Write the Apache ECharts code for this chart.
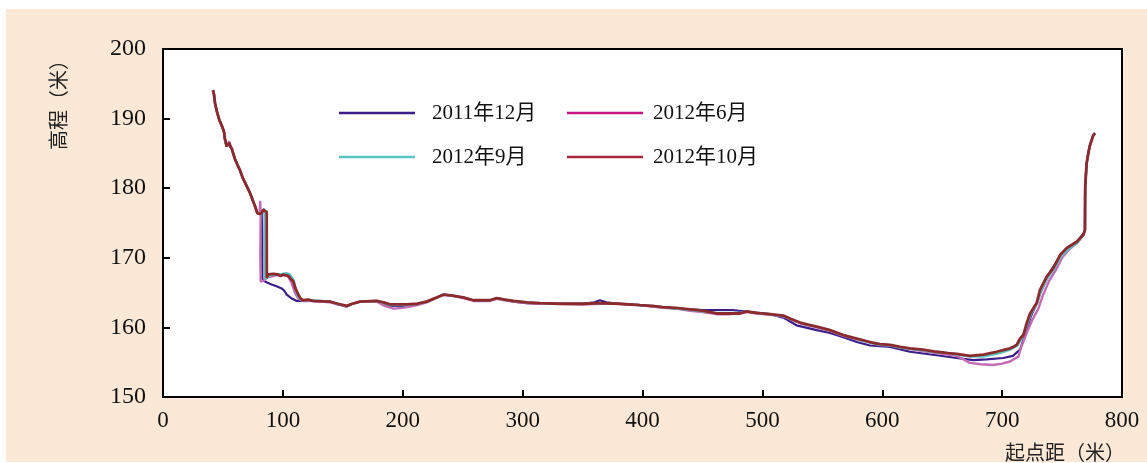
<!DOCTYPE html>
<html>
<head>
<meta charset="utf-8">
<script src="https://cdn.jsdelivr.net/npm/echarts@6/dist/echarts.min.js"></script>
<style>
html,body{margin:0;padding:0;background:#ffffff;}
#chart{width:1147px;height:463px;}
</style>
</head>
<body>
<div id="chart"></div>
<script>
const seriesNames = ['2011年12月', '2012年6月', '2012年9月', '2012年10月'];
const xTicks = [0, 100, 200, 300, 400, 500, 600, 700, 800];
const yTicks = [150, 160, 170, 180, 190, 200];

// [起点距, 高程]
const dec2011 = [
  [41.7,194.1],[42.5,193.5],[43.4,192.2],[45,191.0],[47,189.8],[49,189.0],[50.9,188.1],[51.5,187.2],[53.1,186.0],[54,186.2],[55.3,186.5],[56.2,186.0],[57.3,185.7],[60,184.2],[62,183.4],[64.2,182.6],[66.5,181.5],[69,180.6],[72.6,179.3],[75,178.2],[77,177.3],[78.7,176.4],[80.5,176.3],[82.3,176.4],
  [82.8,173.5],[82.9,166.8],[85.1,166.6],[90,166.2],[94.8,165.9],[99,165.6],[101,165.3],[103.2,164.7],[107,164.2],[111.5,163.8],[117,163.8],[125,163.8],[139.3,163.7],[146,163.3],[153.2,163.0],[158,163.4],[164.3,163.7],[178.3,163.8],[184,163.4],[189.4,163.1],[203.3,163.1],[212,163.3],[220,163.7],[227,164.2],[233.8,164.7],[240,164.6],[250.5,164.3],[258.9,163.9],[272.8,163.9],[278.4,164.2],[285,164.0],[292.3,163.7],[303.4,163.5],[314.5,163.4],[330,163.4],[350,163.4],[360,163.6],[364.5,163.9],[370,163.6],[380,163.4],[398,163.2],[408,163.0],[417,162.9],[428,162.7],[439.6,162.6],[450,162.5],[461,162.5],[475,162.5],[490,162.2],[506.4,161.9],[517.5,161.4],[528.5,160.3],[545.3,159.6],[556.4,159.2],[567.5,158.6],[578.7,157.9],[589.8,157.4],[606.5,157.2],[623,156.5],[645.4,156.0],[662,155.6],[676,155.3],[687,155.4],[701,155.6],[709,155.9],[715,156.8],[717.7,158.2],[720.5,159.6],[724,161.6],[729,163.5],[732,165.0],[738,167.2],[741,168.3],[748,170.0],[754,171.3],[762,172.2],[768,173.5],[769.1,174.0],[769.2,178.3],[769.3,180.2],[770.5,183.6],[771.9,185.0],[773,186.0],[774.7,186.9],[776,187.6],[777.5,187.9]
];
const jun2012 = [
  [41.7,194.1],[42.5,193.5],[43.4,192.2],[45,191.0],[47,189.8],[49,189.0],[50.9,188.1],[51.5,187.2],[53.1,186.0],[54,186.4],[55.3,186.7],[56.2,186.1],[57.3,185.7],[60,184.2],[62,183.4],[64.2,182.6],[66.5,181.5],[69,180.6],[72.6,179.3],[75,178.2],[77,177.3],[78.7,176.4],[80.5,176.3],
  [81.1,178.2],[81.5,176.0],[81.2,170.5],[81.5,166.6],[84,166.7],[87,167.2],[90,167.3],[95,167.5],[100,167.5],[104,167.4],[107,166.5],[110,165.0],[113,164.1],[117,163.8],[125,163.8],[139.3,163.6],[146,163.3],[153.2,163.0],[158,163.4],[164.3,163.7],[178.3,163.7],[185,163.1],[192.2,162.7],[200,162.8],[206,163.0],[212,163.2],[220,163.6],[227,164.2],[233.8,164.7],[240,164.6],[250.5,164.2],[258.9,163.8],[272.8,163.8],[278.4,164.1],[285,163.9],[292.3,163.7],[303.4,163.5],[314.5,163.4],[330,163.4],[350,163.3],[364.5,163.4],[380,163.4],[398,163.2],[408,163.0],[417,162.8],[428,162.7],[439.6,162.4],[450,162.2],[461.9,161.9],[473,161.9],[481,162.0],[486.9,162.2],[495,162.0],[506.4,161.8],[517.5,161.6],[524,161.1],[531.4,160.6],[538,160.3],[545.3,160.0],[556.4,159.5],[567.5,158.8],[578.7,158.3],[589.8,157.8],[598,157.5],[606.5,157.4],[615,157.1],[623,156.9],[634,156.6],[645.4,156.3],[655,156.1],[662,155.9],[668,155.4],[673,154.9],[682,154.7],[692.3,154.6],[700,154.8],[706.6,155.1],[713.5,155.8],[716,157.2],[720.5,159.2],[725,161.0],[730,162.6],[734,164.6],[739,166.6],[745,168.3],[750,170.0],[756,171.2],[763,172.2],[768,173.3],[769.1,174.0],[769.2,178.3],[769.3,180.2],[770.5,183.6],[771.9,185.0],[773,186.0],[774.7,186.9],[776,187.6],[777.5,187.9]
];
const sep2012 = [
  [41.7,194.1],[42.5,193.5],[43.4,192.2],[45,191.0],[47,189.8],[49,189.0],[50.9,188.1],[51.5,187.2],[53.1,186.0],[54,186.2],[55.3,186.5],[56.2,186.0],[57.3,185.7],[60,184.2],[62,183.4],[64.2,182.6],[66.5,181.5],[69,180.6],[72.6,179.3],[75,178.2],[77,177.3],[78.7,176.4],[80.5,176.3],[82.3,176.4],
  [84.2,177.1],[84.6,176.8],[84.7,167.0],[86,166.8],[90,167.5],[96,167.6],[103.2,167.8],[106,167.6],[109,166.8],[111.5,164.9],[114,164.1],[118,163.9],[125,163.9],[139.3,163.7],[146,163.4],[153.2,163.0],[158,163.4],[164.3,163.7],[178.3,163.8],[184,163.5],[189.4,163.2],[203.3,163.2],[212,163.4],[220,163.7],[227,164.2],[233.8,164.7],[240,164.6],[250.5,164.3],[258.9,163.9],[272.8,163.9],[278.4,164.2],[285,164.0],[292.3,163.8],[303.4,163.6],[314.5,163.5],[330,163.4],[350,163.4],[364.5,163.5],[380,163.4],[398,163.2],[408,163.1],[417,162.9],[428,162.7],[439.6,162.5],[450,162.3],[461.9,162.1],[473,162.1],[481,162.1],[486.9,162.3],[495,162.1],[506.4,161.9],[517.5,161.6],[524,161.2],[531.4,160.7],[538,160.4],[545.3,160.1],[556.4,159.6],[567.5,158.9],[578.7,158.3],[589.8,157.8],[598,157.5],[606.5,157.4],[615,157.1],[623,156.9],[634,156.7],[645.4,156.4],[655,156.3],[662,156.1],[673.2,155.8],[684.3,155.8],[695.4,156.2],[700,156.4],[707,156.8],[713,157.4],[717,158.6],[721,160.4],[724,161.9],[729.5,163.5],[732.5,165.3],[738,167.1],[743.5,168.4],[749,170.2],[755,171.2],[763,172.2],[768,173.4],[769.1,174.0],[769.2,178.3],[769.3,180.2],[770.5,183.6],[771.9,185.0],[773,186.0],[774.7,186.9],[776,187.6],[777.5,187.9]
];
const oct2012 = [
  [41.7,194.1],[42.5,193.5],[43.4,192.2],[45,191.0],[47,189.8],[49,189.0],[50.9,188.1],[51.5,187.2],[53.1,186.0],[54,186.2],[55.3,186.5],[56.2,186.0],[57.3,185.7],[60,184.2],[62,183.4],[64.2,182.6],[66.5,181.5],[69,180.6],[72.6,179.3],[75,178.2],[77,177.3],[78.7,176.4],[80.5,176.3],[82.3,176.4],
  [83.5,176.9],[85.1,176.8],[86.5,176.6],[86.6,167.1],[87.5,167.6],[92,167.7],[96,167.6],[98,167.4],[100.4,167.6],[102,167.6],[104.6,167.4],[106.5,167.0],[108.7,166.6],[110.5,165.6],[112.9,164.7],[115,164.1],[117,163.9],[121.3,164.0],[125,163.8],[139.3,163.7],[146,163.4],[153.2,163.1],[158,163.4],[164.3,163.7],[178.3,163.8],[184,163.6],[189.4,163.3],[203.3,163.3],[212,163.4],[220,163.7],[227,164.2],[233.8,164.7],[240,164.6],[250.5,164.3],[258.9,163.9],[272.8,163.9],[278.4,164.2],[285,164.0],[292.3,163.8],[303.4,163.6],[314.5,163.5],[330,163.4],[350,163.4],[364.5,163.5],[380,163.4],[398,163.2],[408,163.1],[417,162.9],[428,162.8],[439.6,162.6],[450,162.4],[461.9,162.0],[473,162.0],[481,162.0],[486.9,162.3],[495,162.1],[506.4,161.9],[517.5,161.7],[524,161.2],[531.4,160.7],[538,160.4],[545.3,160.1],[556.4,159.6],[567.5,158.9],[578.7,158.4],[589.8,157.9],[598,157.6],[606.5,157.5],[615,157.2],[623,157.0],[634,156.8],[645.4,156.5],[655,156.3],[662,156.2],[673.2,155.9],[684.3,156.1],[695.4,156.5],[700,156.7],[706.6,157.0],[709.3,157.2],[712.2,157.5],[715,158.4],[717.7,158.9],[720.5,160.6],[723.3,162.0],[728.8,163.5],[731.6,165.4],[737.2,167.3],[742.7,168.5],[748.3,170.4],[753.9,171.4],[762.2,172.3],[767.7,173.3],[769.1,174.0],[769.2,178.3],[769.3,180.2],[770.5,183.6],[771.9,185.0],[773,186.0],[774.7,186.9],[776,187.6],[777.5,187.9]
];

const lineColors = ['#3B1E8A', '#C46BB5', '#5BC5C3', '#8B2B2E'];
const legendColors = ['#3B1E8A', '#C8147E', '#5BC5C3', '#A8283A'];
const allData = [dec2011, jun2012, sep2012, oct2012];
const lineWidths = [2.2, 2.4, 2.2, 2.8];
const legendPos = [[339,113],[567,113],[339,157],[567,157]];
const legendTextGap = [93, 86, 93, 86];

const serif = '"Liberation Serif", "Times New Roman", "Noto Sans CJK SC", serif';

const chart = echarts.init(document.getElementById('chart'), null, {renderer: 'canvas'});
chart.setOption({
  animation: false,
  backgroundColor: '#ffffff',
  graphic: [
    {type: 'rect', z: -10, silent: true, shape: {x: 6, y: 9, width: 1141, height: 453}, style: {fill: '#FCE8D6'}},
    {type: 'text', z: 10, left: 48, top: 50, rotation: Math.PI / 2, originX: 0, originY: 0,
     style: {text: '高程（米）', font: '20px "Noto Sans CJK SC", serif', fill: '#222'}},
    {type: 'text', z: 10, left: 1005, top: 442,
     style: {text: '起点距（米）', font: '20px "Noto Sans CJK SC", serif', fill: '#222'}}
  ].concat(seriesNames.map((n, i) => ({
    type: 'group', z: 10,
    children: [
      {type: 'line', shape: {x1: legendPos[i][0], y1: legendPos[i][1], x2: legendPos[i][0] + 76, y2: legendPos[i][1]},
       style: {stroke: legendColors[i], lineWidth: 2.4}},
      {type: 'text', x: legendPos[i][0] + legendTextGap[i], y: legendPos[i][1],
       style: {text: n, font: '21px ' + serif, fill: '#111', verticalAlign: 'middle', align: 'left'}}
    ]
  }))),
  grid: {left: 163, top: 49, right: 25, bottom: 66, show: true, backgroundColor: '#ffffff', borderColor: '#000', borderWidth: 2},
  xAxis: {
    type: 'value', min: xTicks[0], max: xTicks[xTicks.length - 1], interval: 100,
    axisLine: {lineStyle: {color: '#000', width: 2}},
    axisTick: {inside: true, length: 7, lineStyle: {color: '#000', width: 2}},
    axisLabel: {fontFamily: serif, fontSize: 23, color: '#111', margin: 12},
    splitLine: {show: false}
  },
  yAxis: {
    type: 'value', min: yTicks[0], max: yTicks[yTicks.length - 1], interval: 10,
    axisLine: {show: true, lineStyle: {color: '#000', width: 2}},
    axisTick: {show: true, inside: true, length: 7, lineStyle: {color: '#000', width: 2}},
    axisLabel: {fontFamily: serif, fontSize: 24, color: '#111', margin: 17},
    splitLine: {show: false}
  },
  series: seriesNames.map((n, i) => ({
    name: n, type: 'line', data: allData[i], symbol: 'none', smooth: false,
    lineStyle: {color: lineColors[i], width: lineWidths[i]},
    itemStyle: {color: lineColors[i]},
    z: 2 + i
  }))
});
</script>
</body>
</html>
